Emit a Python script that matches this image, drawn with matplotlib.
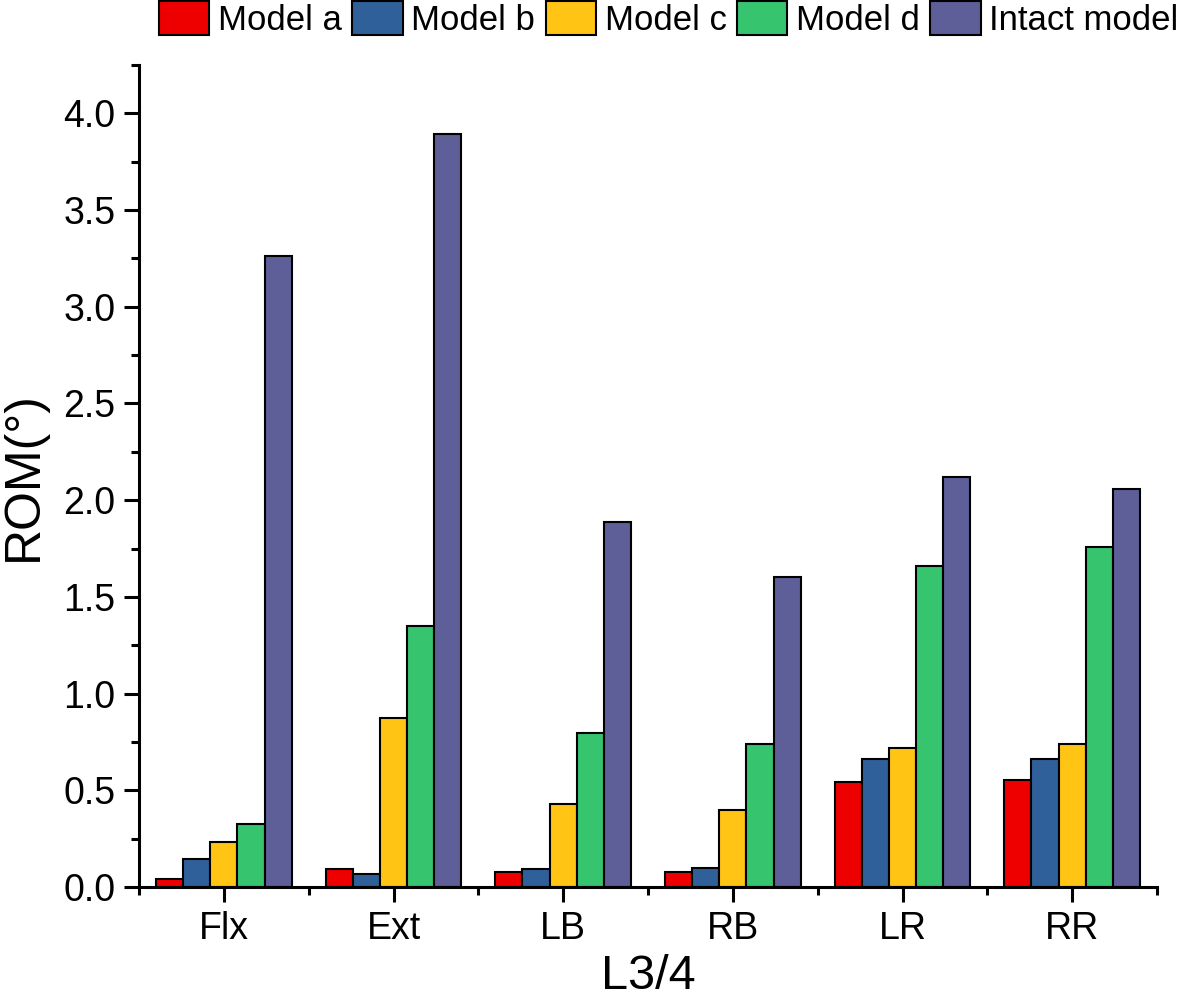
import numpy as np
import matplotlib
matplotlib.use("Agg")
import matplotlib.pyplot as plt
from matplotlib.ticker import MultipleLocator, FixedLocator
from matplotlib import font_manager

names = {f.name for f in font_manager.fontManager.ttflist}
narrow = 'Liberation Sans Narrow' if 'Liberation Sans Narrow' in names else 'Liberation Sans'
plt.rcParams['font.family'] = [narrow, 'DejaVu Sans']

# data
categories = ['Flx', 'Ext', 'LB', 'RB', 'LR', 'RR']
series = ['Model a', 'Model b', 'Model c', 'Model d', 'Intact model']
model_a = [0.04, 0.093, 0.078, 0.078, 0.544, 0.554]
model_b = [0.145, 0.067, 0.093, 0.098, 0.663, 0.663]
model_c = [0.233, 0.876, 0.430, 0.399, 0.720, 0.741]
model_d = [0.326, 1.352, 0.798, 0.741, 1.658, 1.756]
intact = [3.264, 3.896, 1.886, 1.601, 2.119, 2.057]
colors = ['#EE0000', '#30609A', '#FFC414', '#36C46E', '#5E5E98']

values = [model_a, model_b, model_c, model_d, intact]

fig = plt.figure(figsize=(11.81, 9.99), dpi=100)
ax = fig.add_axes([0.1177, 0.1121, 0.862, 0.8228])

x = np.arange(len(categories))
w = 0.16
for i, (name, vals) in enumerate(zip(series, values)):
    ax.bar(x + (i - 2) * w, vals, w, color=colors[i], edgecolor='black',
           linewidth=1.5, label=name)

ax.set_xlim(-0.5, len(categories) - 0.5)
ax.set_ylim(0, 4.25)
ax.set_xticks(x)
ax.set_xticklabels(categories)
ax.xaxis.set_minor_locator(FixedLocator(np.arange(-0.5, len(categories), 1.0)))
ax.yaxis.set_major_locator(MultipleLocator(0.5))
ax.yaxis.set_minor_locator(MultipleLocator(0.25))
ax.yaxis.set_major_formatter(matplotlib.ticker.FormatStrFormatter('%.1f'))

for s in ['top', 'right']:
    ax.spines[s].set_visible(False)
for s in ['left', 'bottom']:
    ax.spines[s].set_linewidth(2.2)

ax.tick_params(which='major', direction='out', length=11, width=2.2,
               labelsize=27, pad=6)
ax.tick_params(which='minor', direction='out', length=6, width=2.2)

ax.set_ylabel('ROM(°)', fontsize=36, labelpad=12)
ax.set_xlabel('L3/4', fontsize=35, labelpad=5)

fig.legend(loc='upper right', bbox_to_anchor=(0.998, 0.999), ncol=5,
           frameon=False, fontsize=25, handlelength=1.45, handleheight=1.15,
           handletextpad=0.25, columnspacing=0.3, borderpad=0.0,
           borderaxespad=0.0)

fig.savefig('out.png', dpi=100)
